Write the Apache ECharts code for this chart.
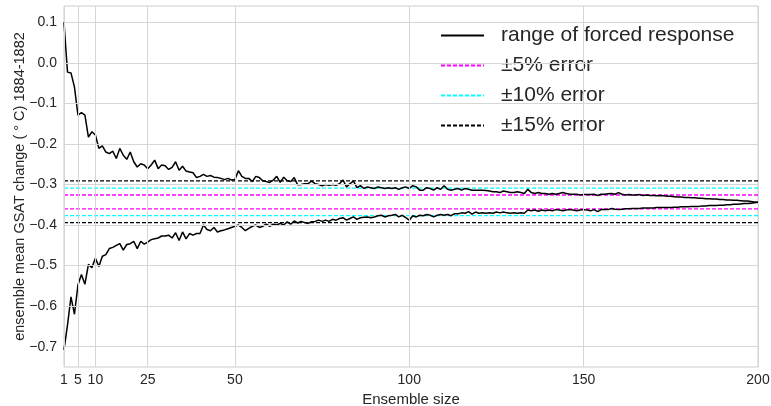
<!DOCTYPE html>
<html>
<head>
<meta charset="utf-8">
<script src="https://cdn.jsdelivr.net/npm/echarts@6/dist/echarts.min.js"></script>
<style>html,body{margin:0;padding:0;background:#fff;}#chart{width:771px;height:406px;}</style>
</head>
<body>
<div id="chart"></div>
<script>
// Upper bound of forced-response range, ensemble sizes 1..200
const upperRange = [
0.100,-0.023,-0.025,-0.060,-0.129,-0.123,-0.129,-0.183,-0.170,-0.178,
-0.211,-0.205,-0.220,-0.224,-0.218,-0.236,-0.211,-0.228,-0.238,-0.220,
-0.244,-0.257,-0.249,-0.252,-0.261,-0.252,-0.240,-0.261,-0.252,-0.254,
-0.263,-0.258,-0.244,-0.265,-0.255,-0.267,-0.269,-0.271,-0.283,-0.280,
-0.275,-0.280,-0.278,-0.282,-0.283,-0.285,-0.288,-0.285,-0.289,-0.288,
-0.266,-0.280,-0.285,-0.285,-0.293,-0.280,-0.283,-0.291,-0.293,-0.295,
-0.289,-0.280,-0.295,-0.282,-0.291,-0.293,-0.283,-0.301,-0.300,-0.298,
-0.298,-0.292,-0.298,-0.300,-0.303,-0.300,-0.302,-0.300,-0.302,-0.298,
-0.289,-0.306,-0.298,-0.292,-0.308,-0.303,-0.310,-0.306,-0.308,-0.310,
-0.306,-0.308,-0.310,-0.308,-0.310,-0.308,-0.312,-0.308,-0.306,-0.310,
-0.303,-0.306,-0.314,-0.314,-0.308,-0.310,-0.314,-0.308,-0.312,-0.303,
-0.312,-0.314,-0.312,-0.310,-0.314,-0.310,-0.312,-0.314,-0.314,-0.314,
-0.314,-0.315,-0.316,-0.318,-0.318,-0.320,-0.316,-0.318,-0.320,-0.320,
-0.318,-0.320,-0.322,-0.312,-0.320,-0.322,-0.320,-0.322,-0.322,-0.324,
-0.322,-0.324,-0.322,-0.320,-0.322,-0.324,-0.324,-0.324,-0.326,-0.325,
-0.325,-0.325,-0.324,-0.327,-0.324,-0.324,-0.323,-0.322,-0.324,-0.320,
-0.324,-0.326,-0.325,-0.326,-0.326,-0.325,-0.327,-0.326,-0.327,-0.327,
-0.328,-0.327,-0.328,-0.329,-0.329,-0.330,-0.331,-0.331,-0.332,-0.332,
-0.333,-0.333,-0.334,-0.334,-0.335,-0.335,-0.336,-0.336,-0.337,-0.337,
-0.338,-0.338,-0.339,-0.339,-0.340,-0.341,-0.341,-0.342,-0.343,-0.344
];
// Lower bound of forced-response range, ensemble sizes 1..200
const lowerRange = [
-0.708,-0.647,-0.577,-0.620,-0.548,-0.522,-0.546,-0.497,-0.505,-0.482,
-0.502,-0.477,-0.473,-0.458,-0.455,-0.450,-0.446,-0.462,-0.448,-0.446,
-0.440,-0.458,-0.440,-0.447,-0.442,-0.436,-0.434,-0.432,-0.427,-0.427,
-0.425,-0.432,-0.419,-0.438,-0.417,-0.434,-0.421,-0.425,-0.421,-0.421,
-0.400,-0.411,-0.414,-0.406,-0.417,-0.414,-0.412,-0.409,-0.406,-0.403,
-0.400,-0.406,-0.414,-0.408,-0.403,-0.400,-0.406,-0.403,-0.398,-0.403,
-0.398,-0.400,-0.396,-0.400,-0.392,-0.398,-0.390,-0.395,-0.391,-0.394,
-0.396,-0.392,-0.391,-0.388,-0.391,-0.388,-0.391,-0.386,-0.388,-0.384,
-0.382,-0.388,-0.384,-0.380,-0.386,-0.382,-0.381,-0.380,-0.382,-0.380,
-0.377,-0.376,-0.380,-0.377,-0.376,-0.374,-0.380,-0.376,-0.382,-0.388,
-0.377,-0.380,-0.376,-0.377,-0.374,-0.376,-0.380,-0.376,-0.374,-0.376,
-0.374,-0.377,-0.372,-0.372,-0.370,-0.371,-0.367,-0.373,-0.368,-0.371,
-0.370,-0.371,-0.370,-0.371,-0.368,-0.370,-0.368,-0.370,-0.371,-0.370,
-0.371,-0.370,-0.371,-0.363,-0.365,-0.363,-0.366,-0.363,-0.365,-0.363,
-0.365,-0.362,-0.363,-0.365,-0.363,-0.362,-0.363,-0.365,-0.363,-0.362,
-0.363,-0.365,-0.362,-0.367,-0.362,-0.362,-0.362,-0.359,-0.361,-0.362,
-0.361,-0.360,-0.360,-0.359,-0.359,-0.359,-0.358,-0.358,-0.358,-0.358,
-0.357,-0.357,-0.357,-0.357,-0.357,-0.356,-0.356,-0.355,-0.355,-0.355,
-0.354,-0.354,-0.354,-0.353,-0.353,-0.352,-0.352,-0.352,-0.351,-0.351,
-0.350,-0.350,-0.349,-0.349,-0.348,-0.347,-0.347,-0.346,-0.345,-0.344
];
// Error bands (lower/upper levels) around the full-ensemble forced response
const err5 = [-0.326, -0.360];
const err10 = [-0.309, -0.377];
const err15 = [-0.291, -0.394];
const xRange = [1, 200];
const xTicks = [1, 5, 10, 25, 50, 100, 150, 200];
const yTicks = [-0.7, -0.6, -0.5, -0.4, -0.3, -0.2, -0.1, 0.0, 0.1];
const legendNames = ['range of forced response', '\u00b15% error', '\u00b110% error', '\u00b115% error'];

const FONT = '"Liberation Sans", Arial, sans-serif';
const TXT = '#262626';

const toPairs = arr => arr.map((v, i) => [i + 1, v]);
const hline = (name, v, color) => ({
  name: name, type: 'line', data: [[xRange[0], v], [xRange[1], v]],
  symbol: 'none', silent: true, z: 3,
  lineStyle: {color: color, width: 1.3, type: [4, 2]}, itemStyle: {color: color}
});

const gridLines = [];
xTicks.forEach(x => gridLines.push({xAxis: x}));
yTicks.forEach(y => gridLines.push({yAxis: y}));

const series = [
  {
    name: 'gridlines', type: 'line', data: [], z: 1, silent: true,
    markLine: {
      silent: true, symbol: 'none', label: {show: false},
      lineStyle: {color: '#d6d6d6', width: 1, type: 'solid'},
      emphasis: {disabled: true}, animation: false,
      data: gridLines
    }
  },
  hline(legendNames[1], err5[0], '#ff00ff'),
  hline(legendNames[1], err5[1], '#ff00ff'),
  hline(legendNames[2], err10[0], '#00ffff'),
  hline(legendNames[2], err10[1], '#00ffff'),
  hline(legendNames[3], err15[0], '#000000'),
  hline(legendNames[3], err15[1], '#000000'),
  {
    name: legendNames[0], type: 'line', data: toPairs(upperRange), symbol: 'none', z: 4,
    lineStyle: {color: '#000', width: 1.5}, itemStyle: {color: '#000'}
  },
  {
    name: legendNames[0], type: 'line', data: toPairs(lowerRange), symbol: 'none', z: 4,
    lineStyle: {color: '#000', width: 1.5}, itemStyle: {color: '#000'}
  }
];

const chart = echarts.init(document.getElementById('chart'), null, {renderer: 'canvas'});
chart.setOption({
  animation: false,
  backgroundColor: '#ffffff',
  textStyle: {fontFamily: FONT},
  grid: {left: 64, right: 13, top: 6, bottom: 39, show: true, borderColor: '#cccccc', borderWidth: 1,
         backgroundColor: 'transparent', outerBoundsMode: 'none', containLabel: false},
  legend: {
    data: legendNames,
    orient: 'vertical', left: 435, top: 20,
    itemWidth: 43, itemHeight: 14, itemGap: 9,
    itemStyle: {color: 'transparent', borderWidth: 0, opacity: 0},
    textStyle: {fontSize: 21, color: TXT, fontFamily: FONT, lineHeight: 21, padding: [0, 0, 0, 12]},
    selectedMode: false
  },
  xAxis: {
    type: 'value', min: xRange[0], max: xRange[1],
    name: 'Ensemble size', nameLocation: 'middle', nameGap: 22,
    nameTextStyle: {fontSize: 15, color: TXT, fontFamily: FONT},
    axisLine: {show: false}, axisTick: {show: false}, splitLine: {show: false},
    axisLabel: {customValues: xTicks, fontSize: 14, color: TXT, margin: 6, fontFamily: FONT}
  },
  yAxis: {
    type: 'value', min: -0.75, max: 0.14,
    name: 'ensemble mean GSAT change ( \u00b0 C) 1884-1882', nameLocation: 'middle', nameGap: 37,
    nameMoveOverlap: false,
    nameTextStyle: {fontSize: 14.5, color: TXT, fontFamily: FONT},
    axisLine: {show: false}, axisTick: {show: false}, splitLine: {show: false},
    axisLabel: {
      customValues: yTicks, fontSize: 14, color: TXT, margin: 7, fontFamily: FONT,
      formatter: v => (v < 0 ? '\u2212' : '') + Math.abs(v).toFixed(1)
    }
  },
  series: series
});
</script>
</body>
</html>
